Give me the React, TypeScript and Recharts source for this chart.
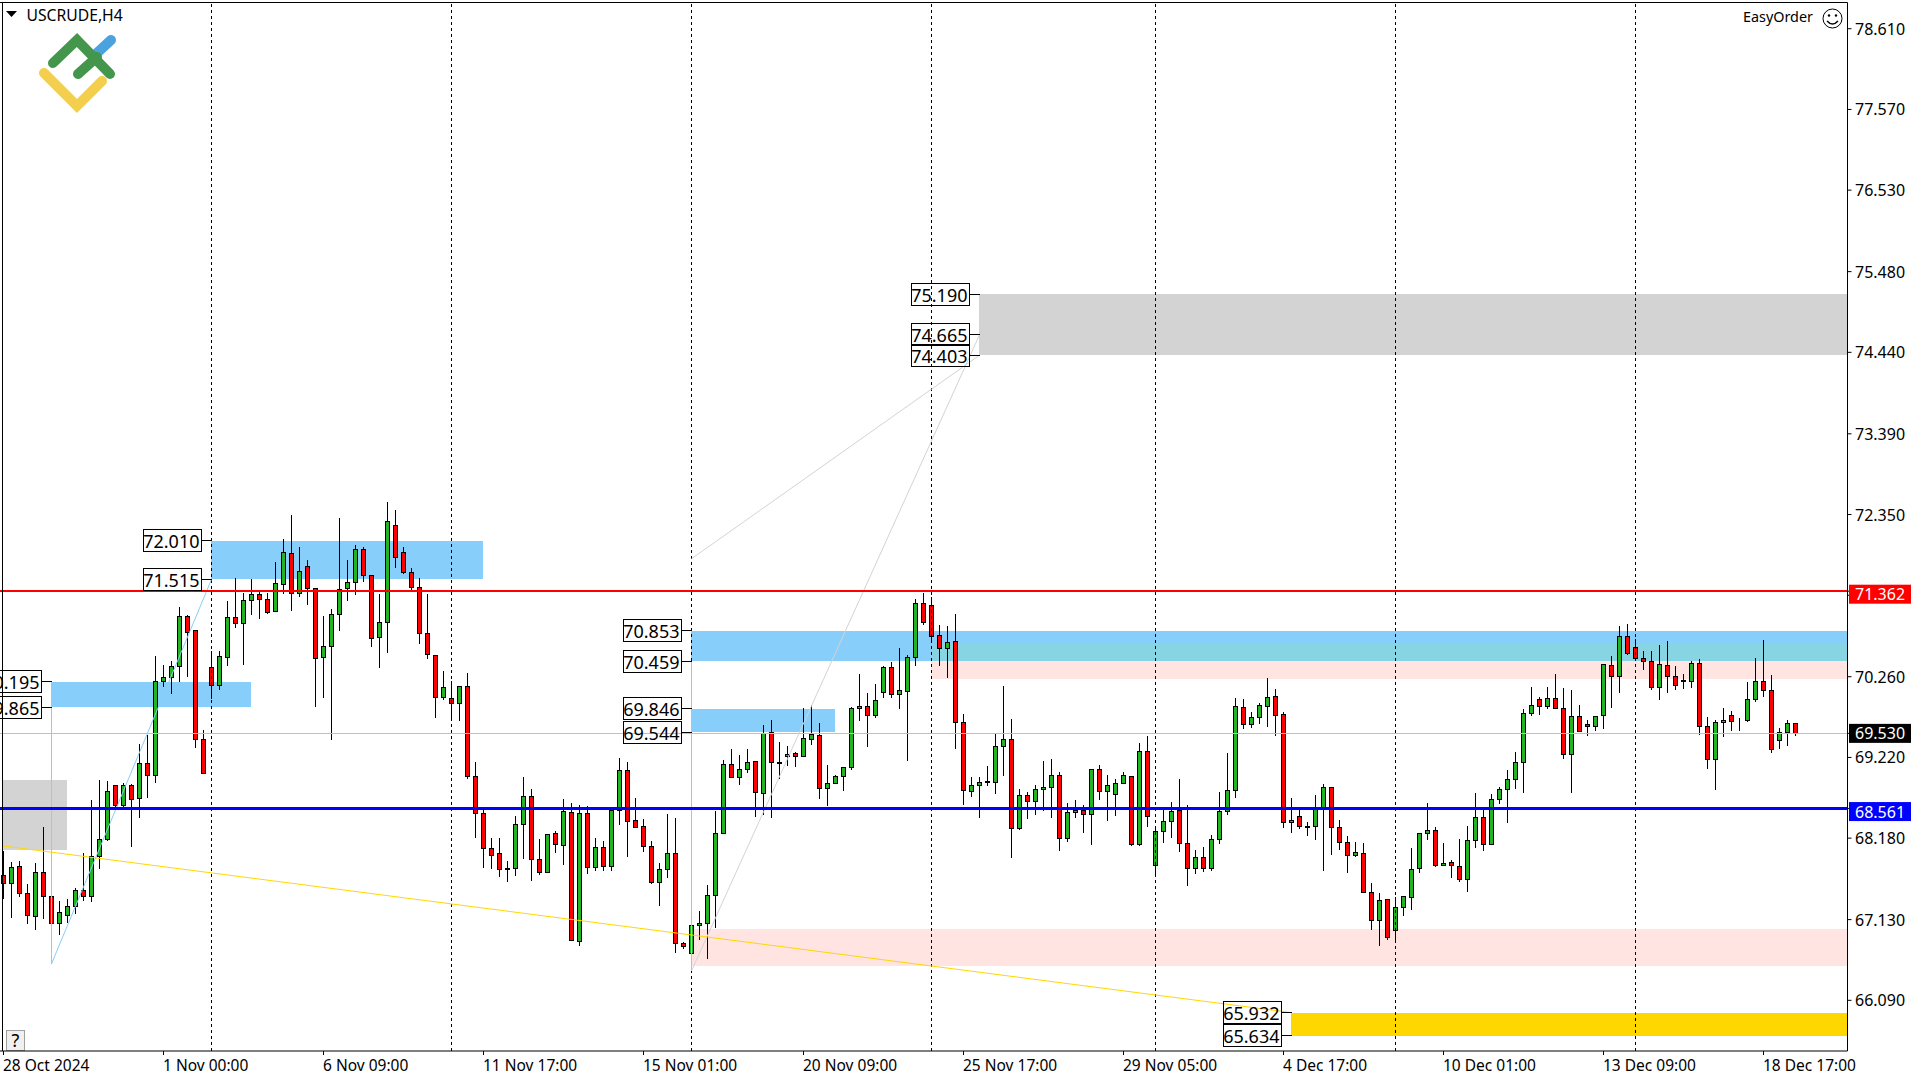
import React from "react";
import { ComposedChart, Bar, XAxis, YAxis, ReferenceLine, ReferenceArea, ReferenceDot, Customized } from "recharts";

const FONT = '"Noto Sans", Tahoma, sans-serif';

const opens = [
67.700,67.591,67.816,67.467,67.167,67.738,67.428,67.076,67.180,67.296,
67.506,67.424,67.940,68.159,68.860,68.597,68.860,68.692,69.143,68.989,
70.200,70.247,70.393,71.038,70.857,69.452,70.380,70.143,70.510,71.025,
70.947,71.244,71.316,71.252,71.102,71.450,71.844,71.334,71.677,71.394,
70.504,70.646,71.064,71.394,71.476,71.901,71.560,70.762,70.960,72.210,
71.857,71.599,71.411,70.818,70.535,69.994,69.981,69.917,70.135,68.970,
68.499,68.048,67.983,67.777,67.790,68.357,68.718,67.906,67.738,68.241,
68.086,68.511,66.849,68.499,67.803,68.061,67.816,68.537,69.053,68.409,
68.332,68.074,67.609,67.777,67.983,66.823,66.695,67.056,67.081,67.441,
68.241,69.130,68.963,69.066,69.169,68.756,69.543,69.143,69.234,69.272,
69.234,69.452,69.504,68.821,68.885,68.976,69.091,69.852,69.878,69.762,
70.058,70.380,70.032,70.071,70.510,71.205,71.179,70.793,70.625,70.716,
69.671,68.782,68.860,68.898,68.898,69.362,69.452,68.306,68.731,68.653,
68.808,68.834,68.989,68.177,68.511,68.537,68.485,69.066,68.782,68.743,
68.885,68.976,68.099,69.298,67.823,68.267,68.396,68.537,68.112,67.790,
67.932,67.790,68.164,68.524,68.795,69.865,69.646,69.736,69.878,70.007,
69.775,68.383,68.459,68.319,68.332,68.550,68.834,68.319,68.125,67.958,
67.983,67.480,67.120,67.391,66.991,67.288,67.416,67.790,68.241,68.280,
67.823,67.867,67.816,67.648,68.151,68.447,68.099,68.679,68.808,68.937,
69.156,69.788,69.968,69.878,69.981,69.852,69.260,69.749,69.646,69.620,
69.762,70.406,70.265,70.780,70.638,70.496,70.457,70.123,70.406,70.265,
70.200,70.200,70.432,69.620,69.195,69.672,69.762,69.680,69.697,69.968,
70.200,70.084,69.440,69.543,69.659,
];
const closes = [
67.591,67.803,67.462,67.180,67.738,67.424,67.076,67.223,67.301,67.506,
67.424,67.945,68.164,68.782,68.597,68.860,68.674,69.143,68.989,70.200,
70.247,70.393,71.038,70.831,69.452,69.009,70.143,70.522,71.025,70.947,
71.244,71.316,71.257,71.089,71.458,71.857,71.334,71.618,71.394,70.496,
70.646,71.064,71.386,71.476,71.901,71.560,70.754,70.960,72.262,71.798,
71.599,71.406,70.818,70.548,69.994,70.123,69.912,70.135,68.970,68.499,
68.048,67.953,67.777,67.790,68.357,68.718,67.906,67.738,68.228,68.099,
68.524,66.862,68.499,67.803,68.061,67.816,68.537,69.053,68.396,68.319,
68.074,67.605,67.777,67.983,66.823,66.785,67.056,67.081,67.441,68.241,
69.130,68.963,69.066,69.156,68.769,69.530,69.156,69.156,69.260,69.234,
69.465,69.517,68.821,68.885,68.976,69.091,69.852,69.878,69.762,69.955,
70.380,70.032,70.084,70.510,71.205,70.960,70.780,70.625,70.703,69.671,
68.795,68.860,68.898,68.911,69.362,69.452,68.306,68.731,68.653,68.808,
68.834,68.989,68.177,68.511,68.537,68.485,69.066,68.782,68.860,68.885,
68.989,68.099,69.298,68.459,68.267,68.396,68.524,68.112,67.790,67.932,
67.790,68.164,68.524,68.795,69.878,69.646,69.736,69.891,69.994,69.762,
68.383,68.409,68.332,68.332,68.550,68.834,68.319,68.125,67.958,67.996,
67.480,67.120,67.378,66.901,67.288,67.428,67.777,68.241,68.280,67.823,
67.855,67.823,67.648,68.151,68.447,68.099,68.679,68.808,68.937,69.156,
69.788,69.891,69.878,69.981,69.852,69.260,69.749,69.555,69.620,69.749,
70.419,70.265,70.780,70.561,70.496,70.457,70.123,70.419,70.265,70.149,
70.213,70.432,69.620,69.195,69.672,69.697,69.684,69.688,69.968,70.200,
70.084,69.324,69.543,69.659,69.530,
];
const highs = [
68.017,67.884,67.897,67.596,67.871,68.336,67.686,67.382,67.404,67.549,
67.996,68.683,68.941,68.928,68.864,68.898,68.885,69.401,69.521,70.539,
70.419,70.474,71.167,71.064,70.870,69.581,70.599,70.599,71.248,71.540,
71.351,71.527,71.368,71.347,71.746,72.043,72.344,71.944,71.772,71.399,
71.054,71.141,72.318,71.772,71.969,71.944,71.579,71.334,72.524,72.421,
71.944,71.673,71.540,71.334,70.552,70.346,70.217,70.152,70.320,69.173,
68.584,68.194,68.194,67.897,68.473,68.980,68.825,68.181,68.241,68.284,
68.696,68.640,68.618,68.606,68.194,68.151,68.589,69.225,69.169,68.705,
68.435,68.151,67.867,68.499,68.442,66.853,67.102,67.253,67.584,68.541,
69.195,69.337,69.260,69.337,69.173,69.647,69.711,69.427,69.376,69.302,
69.869,69.907,69.672,69.130,69.005,69.108,69.882,70.303,70.062,70.174,
70.407,70.458,70.638,70.548,71.274,71.351,71.300,70.934,70.925,71.076,
69.788,68.976,68.976,69.118,69.530,70.149,69.724,68.821,68.786,68.873,
69.182,69.208,69.040,68.640,68.679,68.614,69.079,69.130,69.002,68.950,
69.040,68.976,69.413,69.504,68.348,68.550,68.653,68.950,68.614,68.035,
68.074,68.228,68.782,69.285,69.994,69.981,69.814,69.929,70.256,70.110,
69.814,68.705,68.550,68.396,68.743,68.885,68.847,68.422,68.215,68.138,
68.125,67.609,67.480,67.391,67.428,67.441,68.061,68.254,68.640,68.332,
68.125,67.906,68.177,68.344,68.769,68.589,68.756,68.847,69.066,69.298,
69.852,70.135,70.007,70.135,70.303,70.123,70.097,69.904,69.711,69.762,
70.432,70.535,70.921,70.947,70.754,70.599,70.599,70.677,70.728,70.406,
70.303,70.470,70.496,69.749,69.711,69.865,69.826,69.736,70.195,70.510,
70.745,70.290,69.607,69.711,69.659,
];
const lows = [
67.403,67.163,67.433,67.085,67.008,67.150,66.560,66.944,67.098,67.214,
67.373,67.360,67.794,68.146,68.584,68.584,68.069,68.442,68.700,68.893,
70.130,70.050,70.195,70.260,69.344,69.009,69.981,70.101,70.411,70.891,
70.415,71.067,71.007,71.071,71.102,71.329,71.110,71.290,71.187,69.873,
69.989,69.452,70.861,71.239,71.316,71.483,70.646,70.376,70.569,71.664,
71.586,71.377,70.684,70.491,69.731,69.963,69.714,69.701,68.954,68.185,
67.798,67.794,67.682,67.626,67.695,67.923,67.639,67.707,67.738,68.000,
67.845,66.862,66.793,67.721,67.768,67.759,67.759,68.352,67.940,68.319,
68.013,67.597,67.308,67.669,66.702,66.754,66.470,66.870,66.625,67.030,
68.241,68.963,68.868,69.027,68.455,68.490,68.442,68.954,69.112,69.099,
69.234,69.392,68.696,68.597,68.885,68.790,69.066,69.692,69.357,69.736,
69.994,69.994,69.847,69.186,70.400,70.934,70.732,70.400,70.247,69.331,
68.609,68.713,68.442,68.855,68.751,68.983,67.927,68.288,68.430,68.480,
68.532,68.442,68.017,68.133,68.442,68.249,68.094,68.674,68.404,68.467,
68.885,68.081,68.081,68.326,67.729,68.120,68.185,68.004,67.565,67.721,
67.746,67.759,68.112,68.485,68.700,69.589,69.602,69.653,69.615,69.499,
68.314,68.249,68.301,68.211,68.159,67.759,67.965,68.030,67.733,67.940,
67.480,67.004,66.797,66.875,66.862,67.184,67.262,67.738,68.164,67.810,
67.823,67.669,67.622,67.488,68.061,68.022,68.099,68.623,68.378,68.821,
68.765,69.762,69.770,69.852,69.852,69.208,68.765,69.555,69.504,69.568,
69.598,69.865,70.053,70.548,70.483,70.355,70.097,69.968,70.053,70.097,
70.110,70.123,69.517,69.079,68.808,69.491,69.568,69.568,69.684,69.942,
70.007,69.285,69.341,69.376,69.504,
];

const dateLabels = ["28 Oct 2024","1 Nov 00:00","6 Nov 09:00","11 Nov 17:00","15 Nov 01:00","20 Nov 09:00","25 Nov 17:00","29 Nov 05:00","4 Dec 17:00","10 Dec 01:00","13 Dec 09:00","18 Dec 17:00"];
const priceTicks = [78.61,77.57,76.53,75.48,74.44,73.39,72.35,71.31,70.26,69.22,68.18,67.13,66.09];
const bidPrice = 69.53;
const supportPrice = 68.561;
const resistancePrice = 71.362;
const separators = [26,56,86,116,144,174,204];
const Y_MIN = 65.437, Y_MAX = 78.948;
const SLOTS = 231;
const X_LEFT_EDGE = -0.125;
const X_RIGHT = 230.5;

const blueZones = [[26,60,72.01,71.515],[6,31,70.195,69.865],[86,X_RIGHT,70.853,70.459],[86,104,69.846,69.544]];
const pinkZones = [[116,X_RIGHT,70.69,70.234],[86,X_RIGHT,67.01,66.535]];
const overlapZone = [116,X_RIGHT,70.69,70.459];
const grayZones = [[X_LEFT_EDGE,8,68.93,68.027],[122,X_RIGHT,75.19,74.403]];
const goldZone = [161,X_RIGHT,65.932,65.634];
const priceBoxes = [[26,72.01],[26,71.515],[6,70.195],[6,69.865],[86,70.853],[86,70.459],[86,69.846],[86,69.544],[122,75.19],[122,74.665],[122,74.403],[161,65.932],[161,65.634]];
const blueSegments = [[6,69.865,6,66.56],[6,66.56,26,71.515],[86,70.459,86,66.47]];
const graySegments = [[86,66.47,122,74.665],[86,71.78,122,74.403]];
const goldSegment = [-0.18,68.081,161,65.932];

const data = Array.from({ length: SLOTS }, (_, k) => ({
  k, open: opens[k] ?? null, close: closes[k] ?? null, high: highs[k] ?? null, low: lows[k] ?? null,
}));

const snap = (v: number) => Math.round(v - 0.5) + 0.5;

const Candle = (p: any) => {
  const d = p.payload;
  if (d == null || d.high == null || !(p.height > 0)) return null;
  const cx = p.x + p.width / 2;
  const ppu = p.height / (d.high - d.low);
  const yOf = (v: number) => snap(p.y + (d.high - v) * ppu);
  const top = yOf(Math.max(d.open, d.close));
  const bot = yOf(Math.min(d.open, d.close));
  return (
    <g shapeRendering="crispEdges">
      <line x1={cx} x2={cx} y1={yOf(d.high)} y2={yOf(d.low)} stroke="#000" strokeWidth={1} />
      <rect x={cx - 2} y={top} width={4} height={Math.max(bot - top, 0)} fill={d.close >= d.open ? "#22B422" : "#FF0000"} stroke="#000" strokeWidth={1} />
    </g>
  );
};

const PriceBox = (p: any, price: number) => {
  const r = p.cx - 10;
  return (
    <g shapeRendering="crispEdges">
      <line x1={r} x2={p.cx} y1={snap(p.cy)} y2={snap(p.cy)} stroke="#000" />
      <rect x={r - 58} y={snap(p.cy - 11)} width={58} height={22} fill="none" stroke="#000" />
      <text x={r - 2} y={p.cy + 7.5} textAnchor="end" fontFamily={FONT} fontSize={18} fill="#000" shapeRendering="auto">{price.toFixed(3)}</text>
    </g>
  );
};

const tagStyle: Record<string, { bg: string; dy: number }> = {
  [bidPrice.toFixed(3)]: { bg: "#000", dy: 0 },
  [supportPrice.toFixed(3)]: { bg: "#0000FF", dy: 3 },
  [resistancePrice.toFixed(3)]: { bg: "#FF0000", dy: 3 },
};

const PriceTick = (p: any) => {
  const label = Number(p.payload.value).toFixed(3);
  const tag = tagStyle[label];
  const y = p.payload.coordinate + (tag ? tag.dy : 0);
  return (
    <g>
      {tag && <rect x={1849} y={y - 9.5} width={62} height={19} fill={tag.bg} />}
      <text x={1855} y={y + 6} fontFamily={FONT} fontSize={16} fill={tag ? "#fff" : "#000"}>{label}</text>
    </g>
  );
};

const DateTick = (p: any) => (
  <text x={p.x - 0.5} y={1071} fontFamily={FONT} fontSize={15.5} fill="#000">{dateLabels[Math.round(p.payload.value / 20)] ?? ""}</text>
);

const Decorations = () => (
  <g>
    <path d="M6 11 L17 11 L11.5 17 Z" fill="#000" />
    <text x={26.5} y={20.5} fontFamily={FONT} fontSize={15.7} fill="#000">USCRUDE,H4</text>
    <g fill="none" strokeLinecap="round" strokeWidth={10}>
      <path d="M97 53 L111 40" stroke="#4AA3DF" />
      <path d="M53 63 L77 40 L110 74" stroke="#43964C" />
      <path d="M78 74 L97 57" stroke="#43964C" />
      <path d="M44 73 L77 106 L102 81" stroke="#F4CF4E" />
    </g>
    <text x={1813} y={21.5} textAnchor="end" fontFamily={FONT} fontSize={15} textLength={70} lengthAdjust="spacingAndGlyphs" fill="#000">EasyOrder</text>
    <g fill="none" stroke="#000" strokeWidth={1}>
      <circle cx={1832.5} cy={18.5} r={9.5} />
      <path d="M1827 21 Q1832.5 27 1838 21" strokeWidth={1.5} />
    </g>
    <circle cx={1829} cy={15.5} r={1.2} fill="#000" />
    <circle cx={1836} cy={15.5} r={1.2} fill="#000" />
    <rect x={6.5} y={1030.5} width={18} height={20} fill="#F0F0F0" stroke="#A0A0A0" />
    <text x={15.5} y={1047} textAnchor="middle" fontFamily={FONT} fontSize={18} fill="#000">?</text>
  </g>
);

const EDGE_NUDGE = 0.05;
const nudged = (x: number) => (x === X_RIGHT || x === X_LEFT_EDGE ? x : x - EDGE_NUDGE);
const zone = (z: number[], fill: string, key: string) => (
  <ReferenceArea key={key} xAxisId="n" x1={nudged(z[0])} x2={nudged(z[1])} y1={z[2]} y2={z[3]} fill={fill} fillOpacity={1} stroke="none" ifOverflow="visible" shapeRendering="crispEdges" />
);
const seg = (s: number[], stroke: string, key: string) => (
  <ReferenceLine key={key} xAxisId="n" segment={[{ x: s[0], y: s[1] }, { x: s[2], y: s[3] }]} stroke={stroke} strokeWidth={1} ifOverflow="visible" />
);

export default function App() {
  return (
    <div style={{ position: "absolute", left: 0, top: 0, width: 1920, height: 1080, background: "#fff", overflow: "hidden" }}>
      <ComposedChart width={1920} height={1080} data={data} barCategoryGap={0} margin={{ top: 2.5, right: 0, bottom: 0, left: -0.5 }}>
        <XAxis dataKey="k" type="category" interval={19} tick={DateTick} tickLine={{ stroke: "#000" }} tickSize={4} axisLine={{ stroke: "#000" }} height={29} />
        <XAxis xAxisId="n" type="number" dataKey="k" domain={[-0.5, X_RIGHT]} hide allowDataOverflow />
        <YAxis orientation="right" type="number" domain={[Y_MIN, Y_MAX]} ticks={[...priceTicks, resistancePrice, supportPrice, bidPrice]} interval={0} tick={PriceTick} tickLine={{ stroke: "#000" }} tickSize={4} axisLine={{ stroke: "#000" }} width={72.5} allowDataOverflow />
        {grayZones.map((z, i) => zone(z, "#D3D3D3", "g" + i))}
        {pinkZones.map((z, i) => zone(z, "#FFE4E1", "p" + i))}
        {blueZones.map((z, i) => zone(z, "#87CEFA", "b" + i))}
        {zone(overlapZone, "#87D5E3", "o")}
        {zone(goldZone, "#FFD700", "au")}
        {separators.map((s) => (
          <ReferenceLine key={s} xAxisId="n" x={s} stroke="#000" strokeWidth={1} strokeDasharray="3 3" ifOverflow="visible" shapeRendering="crispEdges" />
        ))}
        <ReferenceLine y={bidPrice} stroke="#C0C0C0" strokeWidth={1} shapeRendering="crispEdges" />
        {blueSegments.map((s, i) => seg(s, "#87CEFA", "bs" + i))}
        {graySegments.map((s, i) => seg(s, "#D3D3D3", "gs" + i))}
        {seg(goldSegment, "#FFD700", "ys")}
        <Bar dataKey={(d: any) => (d.high == null ? null : [d.low, d.high])} shape={Candle} isAnimationActive={false} />
        {priceBoxes.map((b, i) => (
          <ReferenceDot key={i} xAxisId="n" x={b[0]} y={b[1]} r={0} ifOverflow="visible" shape={(p: any) => PriceBox(p, b[1])} />
        ))}
        <ReferenceLine y={resistancePrice} stroke="#FF0000" strokeWidth={2} shapeRendering="crispEdges" />
        <ReferenceLine y={supportPrice} stroke="#0000FF" strokeWidth={3} shapeRendering="crispEdges" />
        <ReferenceArea xAxisId="n" x1={-0.5} x2={X_LEFT_EDGE} y1={Y_MIN} y2={Y_MAX} fill="#fff" fillOpacity={1} stroke="none" ifOverflow="visible" />
        <ReferenceLine xAxisId="n" x={X_LEFT_EDGE} stroke="#000" strokeWidth={1} ifOverflow="visible" />
        <ReferenceLine y={Y_MAX} stroke="#000" strokeWidth={1} ifOverflow="visible" />
        <Customized component={Decorations} />
      </ComposedChart>
    </div>
  );
}
